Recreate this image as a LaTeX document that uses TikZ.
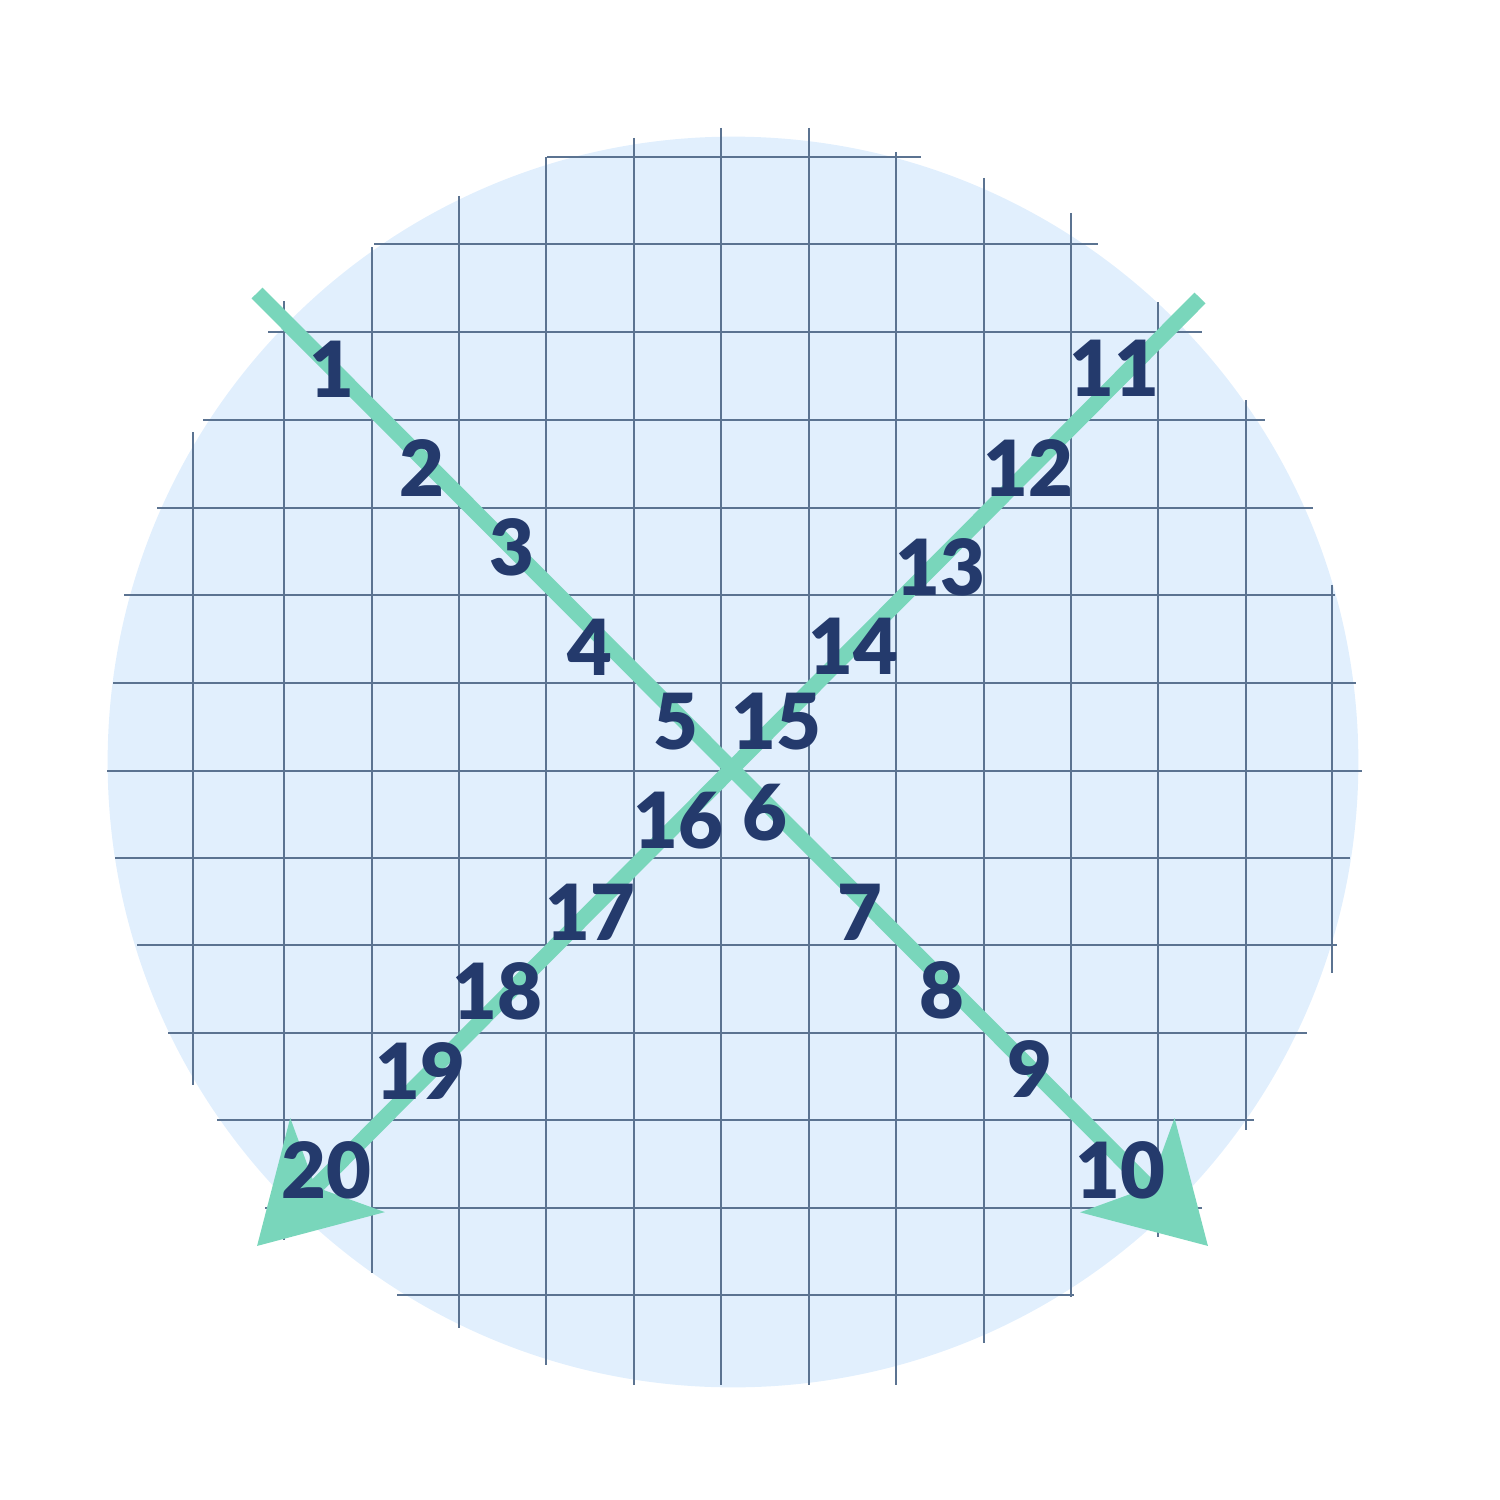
\documentclass[tikz,border=0pt]{standalone}
\usepackage{fontspec}
\setmainfont{Lato}[BoldFont={Lato Black}]
\usetikzlibrary{arrows.meta}
\definecolor{discblue}{HTML}{E1EFFD}
\definecolor{gridgray}{HTML}{5B7391}
\definecolor{crossgreen}{HTML}{79D6BB}
\definecolor{numnavy}{HTML}{243A6C}
\tikzset{
  num/.style={text=numnavy, font=\fontsize{22}{22}\selectfont\bfseries, inner sep=0pt},
  crossline/.style={crossgreen, line width=4.4pt,
    -{Stealth[length=11.3mm, width=13.1mm, inset=3mm]}},
  gridline/.style={gridgray, line width=0.75pt}
}
\begin{document}
\begin{tikzpicture}[x=0.01cm, y=-0.01cm]
    \useasboundingbox (0,0) rectangle (1500,1500);
    % disc
    \fill[discblue] (733,762) circle [radius=6.25cm];
    % grid
    \scope
    \foreach \x/\a/\b in {193/432/1085, 284/301/1240, 372/247/1273, 459/196/1328,
        546/157/1365, 634/138/1385, 721/128/1385, 809/128/1385, 896/152/1385,
        984/178/1343, 1071/213/1297, 1158/302/1237, 1246/400/1130, 1332/585/973}
        \draw[gridline] (\x,\a) -- (\x,\b);
    \foreach \y/\a/\b in {157/547/921, 244/374/1098, 332/268/1202, 420/203/1265,
        508/157/1313, 595/124/1335, 683/113/1356, 771/107/1362, 858/115/1350,
        945/137/1337, 1033/168/1307, 1120/217/1254, 1208/265/1202, 1295/397/1074}
        \draw[gridline] (\a,\y) -- (\b,\y);
    \endscope
    % cross
    \coordinate (tl) at (257,293);
    \coordinate (br) at (1208,1246);
    \coordinate (tr) at (1200,298);
    \coordinate (bl) at (257,1246);
    \draw[crossline] (tl) -- (br);
    \draw[crossline] (tr) -- (bl);
    % numbers
    \foreach \n/\x/\y in {1/332/369, 2/422/468, 3/512/547, 4/590/647, 5/676/722,
        6/765/813, 7/860/912, 8/942/990, 9/1030/1069, 10/1120/1170,
        11/1114/368, 12/1028/468, 13/940/567, 14/853/646, 15/776/722,
        16/678/821, 17/590/912, 18/497/991, 19/420/1071, 20/326/1170}
        \node[num] (n\n) at (\x,\y) {\n};
\end{tikzpicture}
\end{document}
